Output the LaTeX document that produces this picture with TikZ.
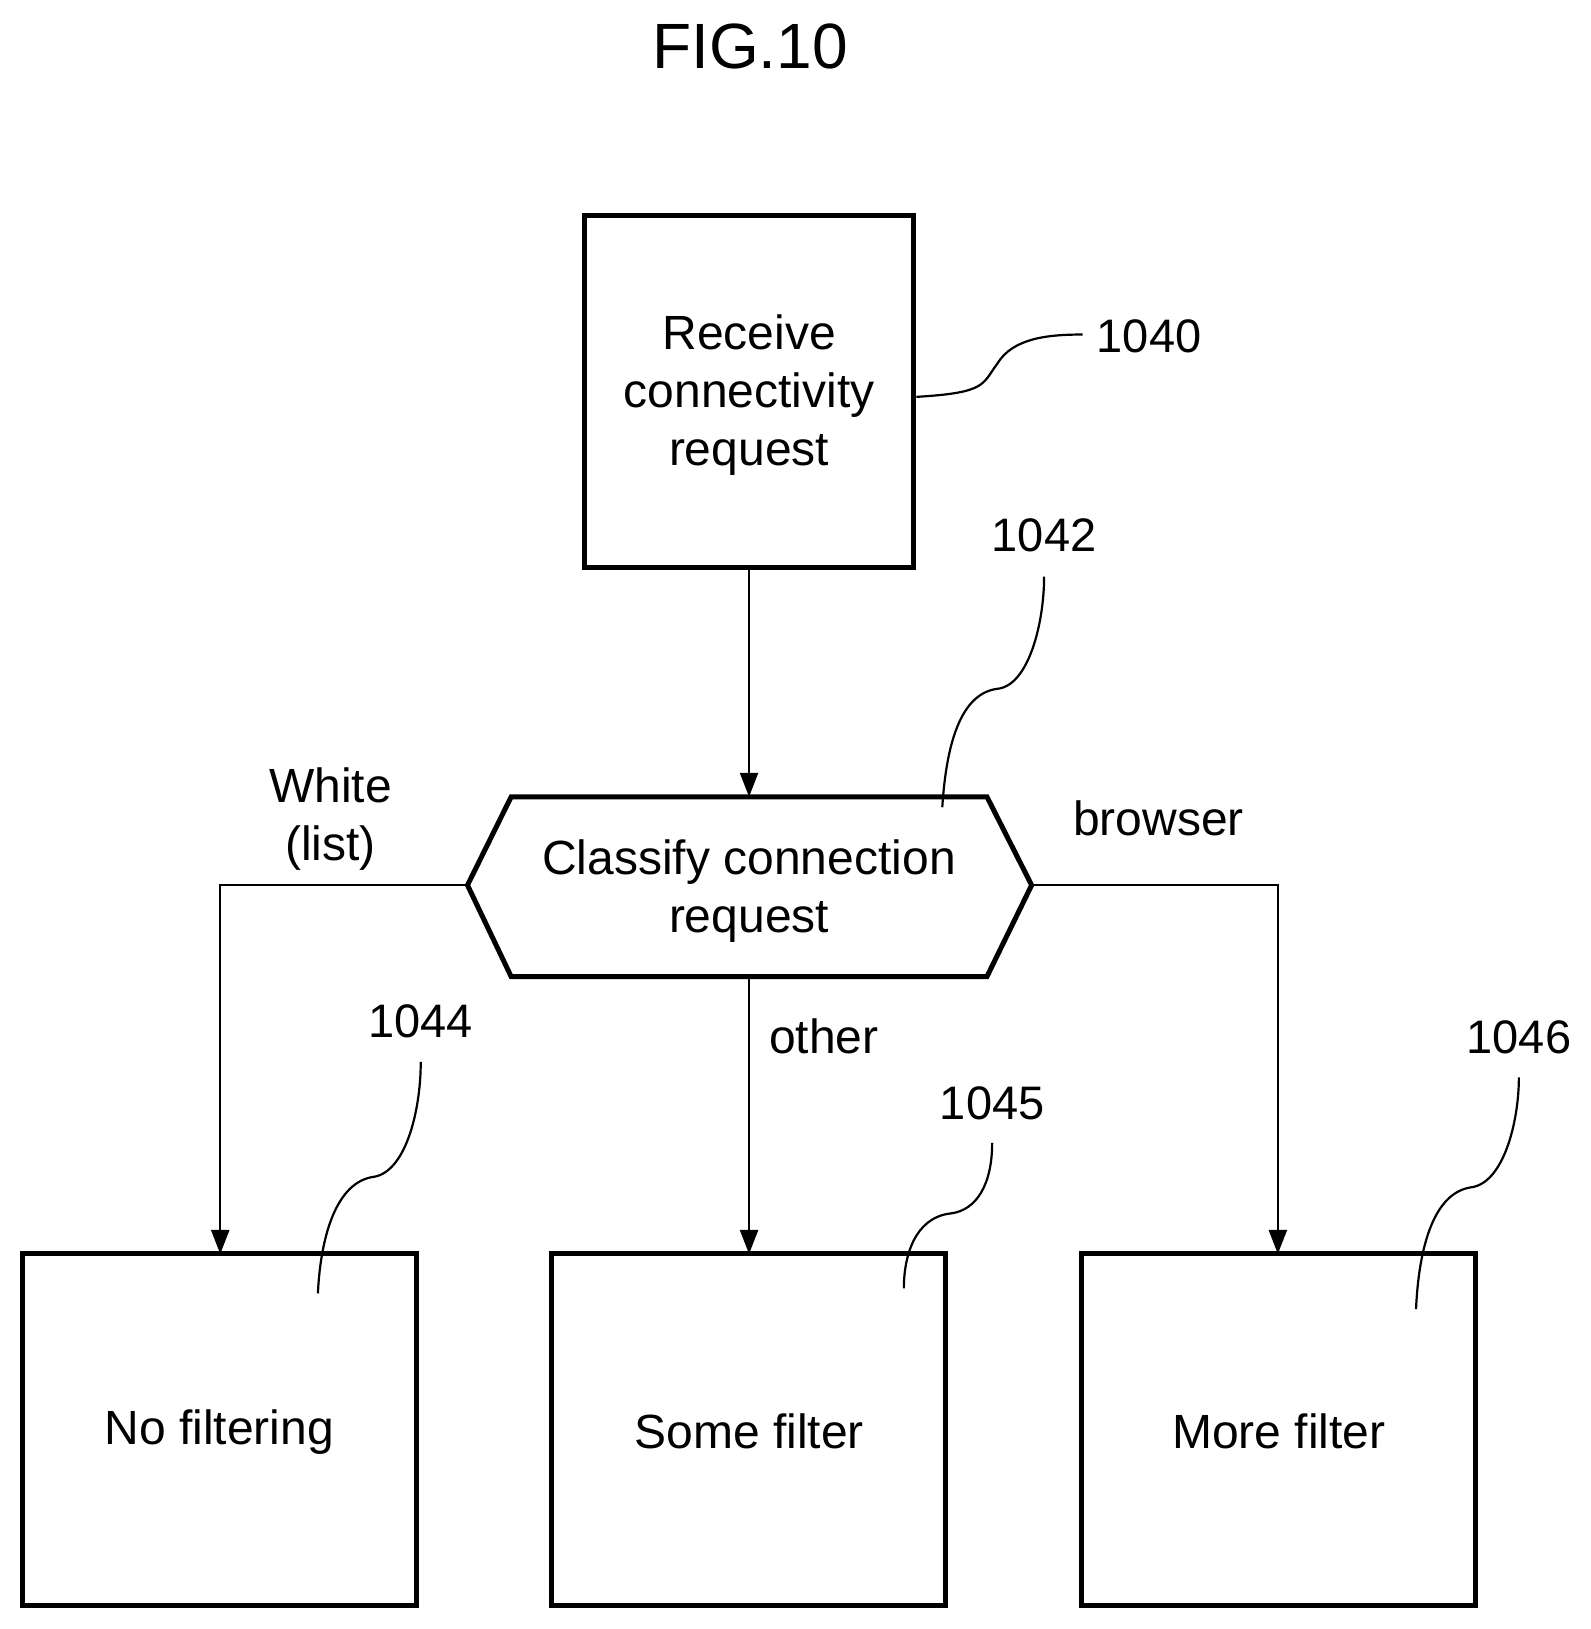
\documentclass[tikz,border=0pt]{standalone}
\usepackage{fontspec}
\setmainfont{Liberation Sans}
\usetikzlibrary{arrows.meta}
\begin{document}
\begin{tikzpicture}[x=1.039pt,y=-1.039pt,
  box/.style={draw,line width=5pt},
  txt/.style={font=\fontsize{48}{58}\selectfont,align=center},
  num/.style={font=\fontsize{47}{52}\selectfont},
  conn/.style={line width=2.2pt,-{Triangle[length=24pt,width=18pt]}},
  lead/.style={line width=2.2pt}]
\useasboundingbox (0,0) rectangle (1531,1568);
\node[font=\fontsize{64}{68}\selectfont] (fig) at (722,45) {FIG.10};
\draw[box] (563,207) rectangle (879,546);
\node[txt] (t1) at (721,380) {Receive\\connectivity\\request};
\coordinate (b1) at (721,546);
\draw[box] (450,852) -- (492,767) -- (950,767) -- (993,852) -- (950,940) -- (492,940) -- cycle;
\node[txt] (t2) at (721,858) {Classify connection\\request};
\coordinate (htop) at (721,767); \coordinate (hbot) at (721,940);
\coordinate (hl) at (450,852); \coordinate (hr) at (993,852);
\draw[box] (22,1207) rectangle (401,1545);
\draw[box] (531,1207) rectangle (910,1545);
\draw[box] (1041,1207) rectangle (1420,1545);
\node[txt] (n1) at (211,1378) {No filtering};
\node[txt] (n2) at (721,1378) {Some filter};
\node[txt] (n3) at (1231,1378) {More filter};
\coordinate (l1) at (212,1207); \coordinate (l2) at (721,1207); \coordinate (l3) at (1230,1207);
\draw[conn] (b1) -- (htop);
\draw[conn] (hl) -- (212,852) -- (l1);
\draw[conn] (hr) -- (1230,852) -- (l3);
\draw[conn] (hbot) -- (l2);
\node[txt] (w) at (318,788) {White\\(list)};
\node[txt] (br) at (1115,788) {browser};
\node[txt] (ot) at (793,998) {other};
\node[num] (k40) at (1106,324) {1040};
\node[num] (k42) at (1005,515) {1042};
\node[num] (k44) at (405,983) {1044};
\node[num] (k45) at (955,1062) {1045};
\node[num] (k46) at (1462,998) {1046};
\draw[lead] (882,382) .. controls (950,378) and (945,370) .. (960,350) .. controls (975,325) and (1010,322) .. (1042,322);
\draw[lead] (1005,555) .. controls (1005,600) and (990,660) .. (960,663) .. controls (920,668) and (910,730) .. (907,777);
\draw[lead] (405,1022) .. controls (405,1070) and (390,1130) .. (358,1133) .. controls (320,1140) and (308,1200) .. (306,1245);
\draw[lead] (955,1100) .. controls (955,1140) and (940,1165) .. (915,1168) .. controls (880,1172) and (870,1210) .. (870,1240);
\draw[lead] (1462,1037) .. controls (1462,1080) and (1447,1140) .. (1415,1143) .. controls (1375,1150) and (1365,1215) .. (1363,1260);
\end{tikzpicture}
\end{document}
